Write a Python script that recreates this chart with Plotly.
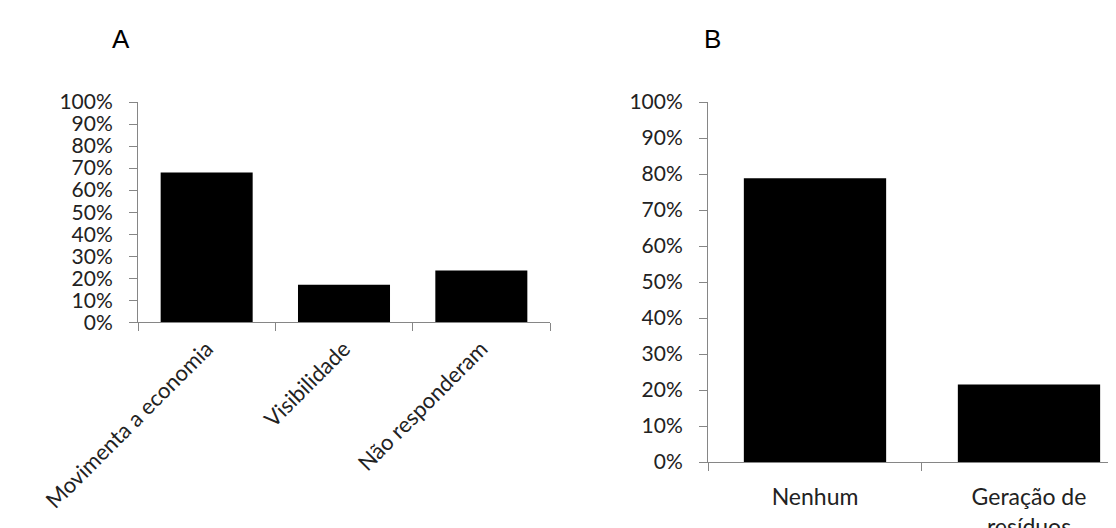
import plotly.graph_objects as go

cats_a = ["Movimenta a economia", "Visibilidade", "Não responderam"]
vals_a = [0.68, 0.17, 0.235]
cats_b = ["Nenhum", "Geração de<br>resíduos"]
vals_b = [0.788, 0.215]
y_ticks = [i / 10 for i in range(11)]

W, H = 1116, 528
AX = "#868686"
FONT = "Lato"

fig = go.Figure()
fig.add_trace(go.Bar(x=cats_a, y=vals_a, marker=dict(color="black", line=dict(width=0)),
                     width=0.67, xaxis="x", yaxis="y", showlegend=False))
fig.add_trace(go.Bar(x=cats_b, y=vals_b, marker=dict(color="black", line=dict(width=0)),
                     width=0.665, xaxis="x2", yaxis="y2", showlegend=False))

def px(x):
    return x / W

def py(y):
    return (H - y) / H

common_y = dict(range=[0, 1], tickvals=y_ticks, tickformat=".0%", showline=True, linecolor=AX,
                linewidth=1, ticks="outside", ticklen=8, tickcolor=AX, showgrid=False, zeroline=False,
                tickfont=dict(family=FONT, size=21, color="#222"), fixedrange=True, automargin=False,
                ticklabelstandoff=12)
common_x = dict(type="category", showline=True, linecolor=AX, linewidth=1, ticks="outside",
                tickson="boundaries", ticklen=8, tickcolor=AX, showgrid=False, zeroline=False,
                automargin=False)

fig.update_layout(
    width=W, height=H, margin=dict(l=0, r=0, t=0, b=0, autoexpand=False),
    paper_bgcolor="white", plot_bgcolor="white",
    xaxis=dict(domain=[px(130), px(542)], range=[-0.5, 2.5], anchor="y", tickangle=-45,
               tickfont=dict(family=FONT, size=22, color="#222"), ticklabelstandoff=4, **common_x),
    yaxis=dict(domain=[py(314.3), py(94)], anchor="x", **common_y),
    xaxis2=dict(domain=[px(700), 1.0], range=[-0.5, 1.444], anchor="y2", tickangle=0,
                tickfont=dict(family=FONT, size=23, color="#222"), ticklabelstandoff=14, **common_x),
    yaxis2=dict(domain=[py(454), py(94)], anchor="x2", **common_y),
    annotations=[
        dict(text="A", x=px(113), y=py(31), xref="paper", yref="paper", showarrow=False,
             xanchor="center", yanchor="middle",
             font=dict(family="Liberation Sans", size=26, color="black")),
        dict(text="B", x=px(704), y=py(31), xref="paper", yref="paper", showarrow=False,
             xanchor="center", yanchor="middle",
             font=dict(family="Liberation Sans", size=26, color="black")),
    ],
)

fig.write_html("out.html")
